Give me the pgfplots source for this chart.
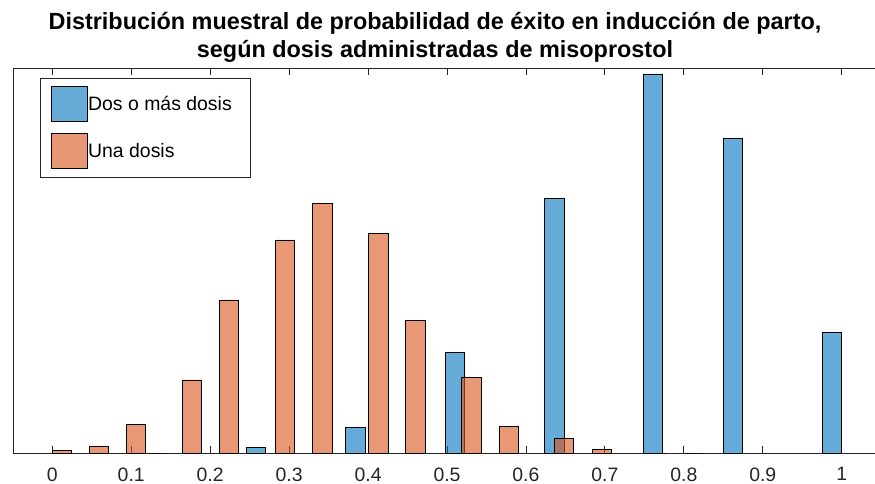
\documentclass[border=0pt]{standalone}
\usepackage{fontspec}
\setmainfont{Liberation Sans}
\usepackage{pgfplots}
\pgfplotsset{compat=1.18}

\definecolor{mblue}{rgb}{0,0.447,0.741}
\definecolor{morange}{rgb}{0.85,0.325,0.098}
\definecolor{axgray}{rgb}{0.15,0.15,0.15}

\pgfplotsset{
  histbar/.style={
    ybar, bar width=0.0245, bar shift=0pt,
    draw=black, line width=0.8bp,
    fill=#1, fill opacity=0.6,
    legend image code/.code={\draw[##1] (0bp,-17.5bp) rectangle (36bp,17.5bp);},
  },
}

\begin{document}
\begin{tikzpicture}
\begin{axis}[
  name=ax,
  scale only axis, width=862bp, height=385bp,
  xmin=-0.0498, xmax=1.0422, ymin=0, ymax=385,
  axis x line*=box, axis y line*=left,
  axis line style={axgray, line width=0.8bp},
  ytick=\empty,
  xtick={0,0.1,0.2,0.3,0.4,0.5,0.6,0.7,0.8,0.9,1},
  xticklabels={0,0.1,0.2,0.3,0.4,0.5,0.6,0.7,0.8,0.9,1},
  tick align=inside, major tick length=7bp,
  tick style={axgray, line width=0.8bp},
  x tick label style={font=\fontsize{19.5}{21}\selectfont, text=axgray, yshift=-11bp},
  /pgf/number format/assume math mode=true,
  legend cell align=left,
  legend style={
    at={(rel axis cs:0.0313,0.974)}, anchor=north west,
    draw=axgray, line width=0.8bp, fill=white,
    font=\fontsize{19.5}{22}\selectfont,
    inner xsep=11bp, inner ysep=8bp, row sep=11bp,
    /tikz/every odd column/.style={column sep=-2bp},
  },
]
% Dos o más dosis
\addplot[histbar=mblue] coordinates {
  (0.132,0) (0.258,5.7) (0.384,25.3) (0.510,100.7) (0.636,254.7)
  (0.761,379) (0.862,314.7) (0.988,120.7)
};
% Una dosis
\addplot[histbar=morange] coordinates {
  (0.0125,2.7) (0.059,7) (0.106,29) (0.177,73) (0.224,153)
  (0.295,213) (0.342,249.7) (0.413,219.7) (0.460,132.3) (0.531,75.3)
  (0.578,27) (0.648,14.7) (0.696,3.7) (0.766,0) (0.812,0)
};
\legend{Dos o más dosis\rule{6bp}{0pt}, Una dosis}
\end{axis}
\node[font=\bfseries\fontsize{23.5}{28}\selectfont, align=center, anchor=south, inner sep=0pt]
  at ([xshift=422bp, yshift=5bp]ax.north west)
  {Distribución muestral de probabilidad de éxito en inducción de parto,\\
   según dosis administradas de misoprostol};
\pgfresetboundingbox
\path[use as bounding box] ([xshift=-13bp,yshift=-31bp]ax.south west) rectangle ([yshift=68bp]ax.north east);
\end{tikzpicture}
\end{document}
